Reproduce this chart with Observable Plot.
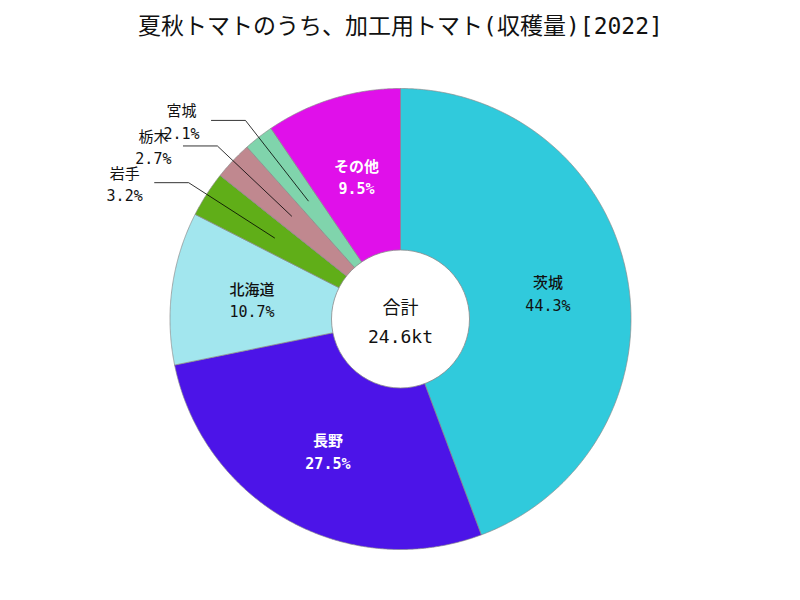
<!DOCTYPE html>
<html><head><meta charset="utf-8">
<script src="https://cdn.jsdelivr.net/npm/d3@7"></script>
<script src="https://cdn.jsdelivr.net/npm/@observablehq/plot@0.6"></script>
<style>body{margin:0;background:#fff}svg{font-family:"DejaVu Sans Mono","Noto Sans CJK JP",monospace}</style>
</head><body><div id="chart"></div>
<script>
const title = "夏秋トマトのうち、加工用トマト(収穫量)[2022]";
const categories = ["茨城","長野","北海道","岩手","栃木","宮城","その他"];
const shares = [44.3,27.5,10.7,3.2,2.7,2.1,9.5];
const colors = ["#30cadc","#4c14e8","#a2e6ee","#60ae18","#c0888f","#80d4ac","#e010ea"];
const labelColors = ["#111","#fff","#111","#111","#111","#111","#fff"];
const outsideLabel = [false,false,false,true,true,true,false];
const totalLabel = "合計";
const totalValue = "24.6kt";

const W = 800, H = 600, cx = 400, cy = 318.5, R = 230.5;
const innerPx = 69;
const total = d3.sum(shares);

let cum = 0;
const slices = categories.map((c, i) => {
  const a0 = cum / total * 2 * Math.PI;
  cum += shares[i];
  const a1 = cum / total * 2 * Math.PI;
  return {cat: c, share: shares[i], a0, a1, mid: (a0 + a1) / 2, i};
});
const poly = [];
for (const s of slices) {
  poly.push({cat: s.cat, x: 0, y: 0});
  const n = Math.max(2, Math.ceil((s.a1 - s.a0) / 0.005));
  for (let k = 0; k <= n; k++) {
    const a = s.a0 + (s.a1 - s.a0) * k / n;
    poly.push({cat: s.cat, x: Math.sin(a), y: Math.cos(a)});
  }
  poly.push({cat: s.cat, x: 0, y: 0});
}
const rIn = 0.65, rElbow = 1.093, hLen = 34 / R, textGap = 30 / R;
const inside = slices.filter(s => !outsideLabel[s.i]).map(s => ({
  x: rIn * Math.sin(s.mid), y: rIn * Math.cos(s.mid),
  text: s.cat + "\n" + s.share.toFixed(1) + "%", color: labelColors[s.i],
  weight: labelColors[s.i] === "#fff" ? "bold" : "normal"
}));
const outs = slices.filter(s => outsideLabel[s.i]);
const leaders = [];
const outText = [];
for (const s of outs) {
  const ex = rElbow * Math.sin(s.mid), ey = rElbow * Math.cos(s.mid);
  leaders.push({cat: s.cat, x: rIn * Math.sin(s.mid), y: rIn * Math.cos(s.mid)});
  leaders.push({cat: s.cat, x: ex, y: ey});
  leaders.push({cat: s.cat, x: ex - hLen, y: ey});
  outText.push({x: ex - hLen - textGap, y: ey, text: s.cat + "\n" + s.share.toFixed(1) + "%"});
}

const plot = Plot.plot({
  width: W, height: H, margin: 0,
  x: {domain: [-cx / R, (W - cx) / R], range: [0, W], axis: null},
  y: {domain: [(cy - H) / R, cy / R], range: [H, 0], axis: null},
  color: {domain: categories, range: colors},
  marks: [
    Plot.line(poly, {x: "x", y: "y", z: "cat", fill: "cat", stroke: "#8a8a8a", strokeWidth: 0.7, curve: "linear"}),
    Plot.dot([{x: 0, y: 0}], {x: "x", y: "y", r: innerPx, fill: "white", stroke: "#8a8a8a", strokeWidth: 0.8}),
    Plot.line(leaders, {x: "x", y: "y", z: "cat", stroke: "#000", strokeWidth: 0.8}),
    Plot.text(inside.filter(d => d.weight === "bold"), {x: "x", y: "y", text: "text", fill: "color", fontSize: 15, lineHeight: 1.5, fontWeight: "bold"}),
    Plot.text(inside.filter(d => d.weight !== "bold"), {x: "x", y: "y", text: "text", fill: "color", fontSize: 15, lineHeight: 1.5, fontWeight: 500}),
    Plot.text(outText, {x: "x", y: "y", text: "text", fill: "#111", fontSize: 15, lineHeight: 1.5}),
    Plot.text([totalLabel + "\n" + totalValue], {x: () => 0, y: () => 0, fontSize: 18, lineHeight: 1.65, fill: "#111"}),
    Plot.text([title], {frameAnchor: "top", dy: 26, lineAnchor: "middle", fontSize: 23, fill: "#111"})
  ]
});
document.getElementById("chart").appendChild(plot);
</script>
</body></html>
